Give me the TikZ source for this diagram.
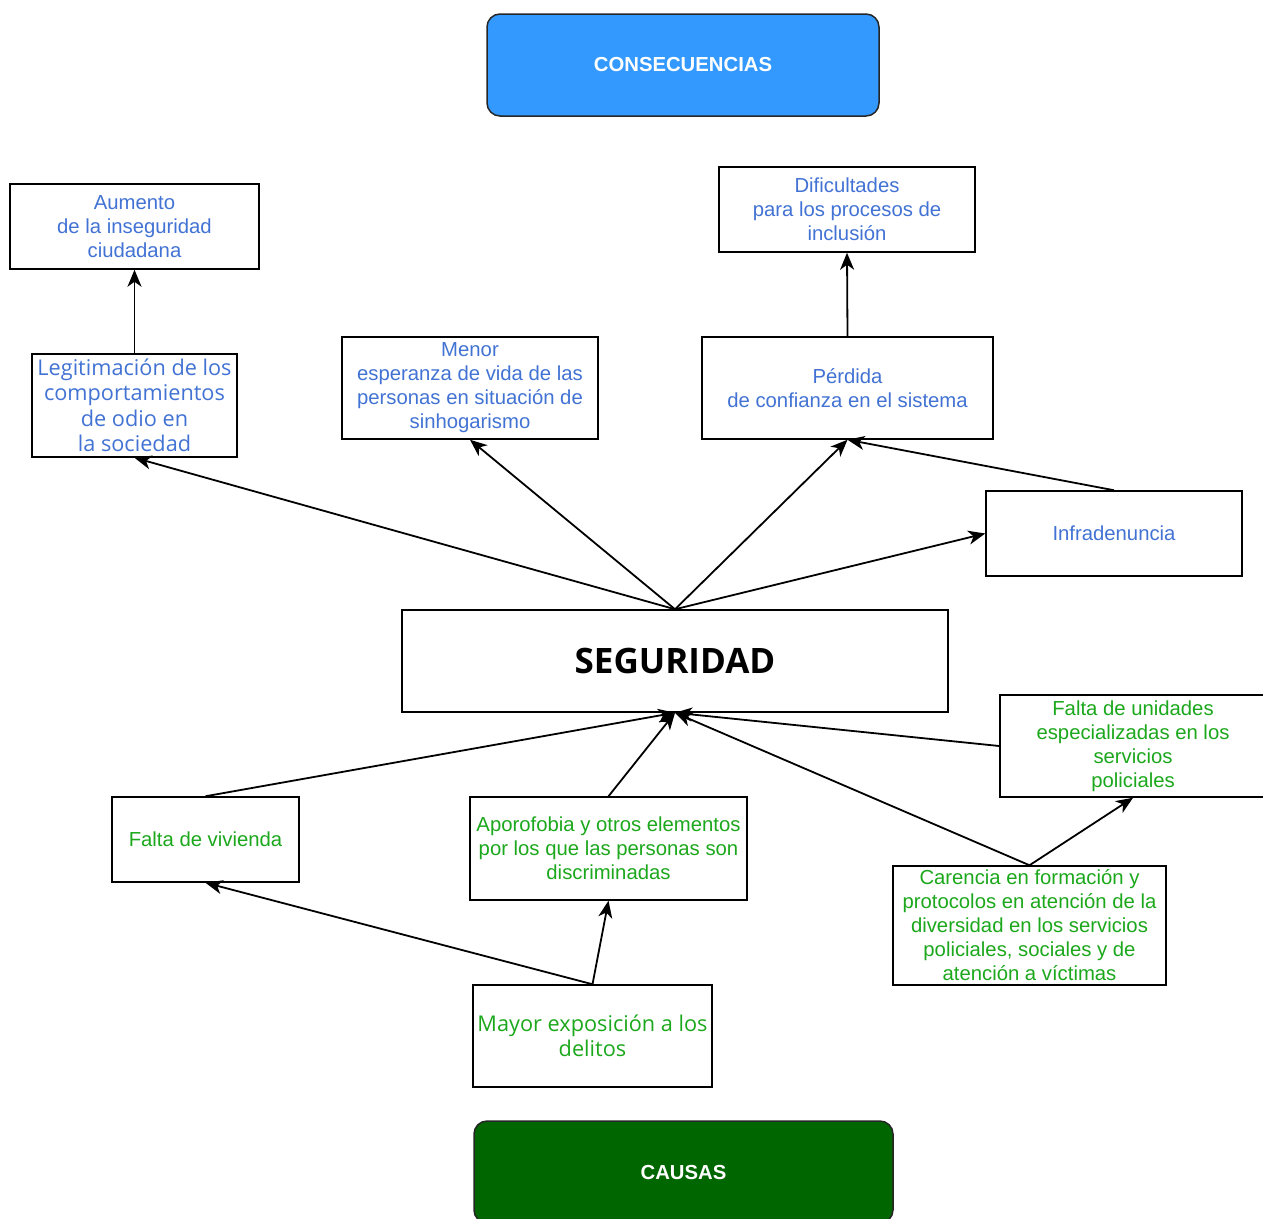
\documentclass[tikz,border=0pt]{standalone}
\usepackage{fontspec}
\setmainfont{Liberation Sans}
\newfontfamily\opensans{Open Sans}
\usetikzlibrary{arrows.meta}
\definecolor{txtblue}{RGB}{66,115,212}
\definecolor{txtgreen}{RGB}{28,168,28}
\definecolor{consblue}{RGB}{51,153,255}
\definecolor{causgreen}{RGB}{0,102,0}
\tikzset{
  box/.style={draw=black, line width=1.5pt, fill=white, align=center, inner sep=2pt,
    font=\fontsize{20.3}{24}\selectfont},
  conbox/.style={box, text=txtblue},
  caubox/.style={box, text=txtgreen},
  osfont/.style={font=\opensans\fontsize{21.7}{25.5}\selectfont},
  header/.style={draw=black!85, line width=1.5pt, rounded corners=13pt, text=white,
    font=\bfseries\fontsize{20.3}{24}\selectfont},
  arr/.style={draw=black, line width=1.8pt, -{Stealth[length=17pt,width=14pt,inset=5pt]}}
}
\begin{document}
\begin{tikzpicture}[x=1pt,y=-1pt]
\useasboundingbox (0,0) rectangle (1263,1218);
% headers
\node[header, fill=consblue, minimum width=392pt, minimum height=102pt] (cons) at (683,65) {CONSECUENCIAS};
\node[header, fill=causgreen, minimum width=419pt, minimum height=102pt] (cau) at (683.5,1172) {CAUSAS};
% consequences
\node[conbox, minimum width=249pt, minimum height=85pt] (aum) at (134.5,226.5) {Aumento\\de la inseguridad\\ciudadana};
\node[conbox, osfont, minimum width=205pt, minimum height=103pt] (leg) at (134.5,405.5) {Legitimación de los\\comportamientos\\de odio en\\la sociedad};
\node[conbox, minimum width=256pt, minimum height=102pt] (men) at (470,388) {Menor\\esperanza de vida de las\\personas en situación de\\sinhogarismo};
\node[conbox, minimum width=256pt, minimum height=85pt] (dif) at (847,209.5) {Dificultades\\para los procesos de\\inclusión};
\node[conbox, minimum width=291pt, minimum height=102pt] (per) at (847.5,388) {Pérdida\\de confianza en el sistema};
\node[conbox, minimum width=256pt, minimum height=85pt] (inf) at (1114,533.5) {Infradenuncia};
% center
\node[box, minimum width=546pt, minimum height=102pt, font=\opensans\bfseries\fontsize{35}{40}\selectfont] (seg) at (675,661) {SEGURIDAD};
% causes
\node[caubox, minimum width=266pt, minimum height=102pt] (fu) at (1133,746) {Falta de unidades\\especializadas en los\\servicios\\policiales};
\node[caubox, minimum width=187pt, minimum height=85pt] (fv) at (205.5,839.5) {Falta de vivienda};
\node[caubox, minimum width=277pt, minimum height=103pt] (apo) at (608.5,848.5) {Aporofobia y otros elementos\\por los que las personas son\\discriminadas};
\node[caubox, minimum width=273pt, minimum height=119pt] (car) at (1029.5,925.5) {Carencia en formación y\\protocolos en atención de la\\diversidad en los servicios\\policiales, sociales y de\\atención a víctimas};
\node[caubox, osfont, minimum width=239pt, minimum height=102pt] (may) at (592.5,1036) {Mayor exposición a los\\delitos};
% arrows consequences
\draw[arr] (leg.north) -- (aum.south);
\draw[arr] (per.north) -- (dif.south);
\draw[arr] (seg.north) -- (leg.south);
\draw[arr] (seg.north) -- (men.south);
\draw[arr] (seg.north) -- (per.south);
\draw[arr] (seg.north) -- (inf.west);
\draw[arr] (inf.north) -- (per.south);
% arrows causes
\draw[arr] (fv.north) -- (seg.south);
\draw[arr] (apo.north) -- (seg.south);
\draw[arr] (fu.west) -- (seg.south);
\draw[arr] (car.north) -- (seg.south);
\draw[arr] (car.north) -- (fu.south);
\draw[arr] (may.north) -- (fv.south);
\draw[arr] (may.north) -- (apo.south);
\end{tikzpicture}
\end{document}
